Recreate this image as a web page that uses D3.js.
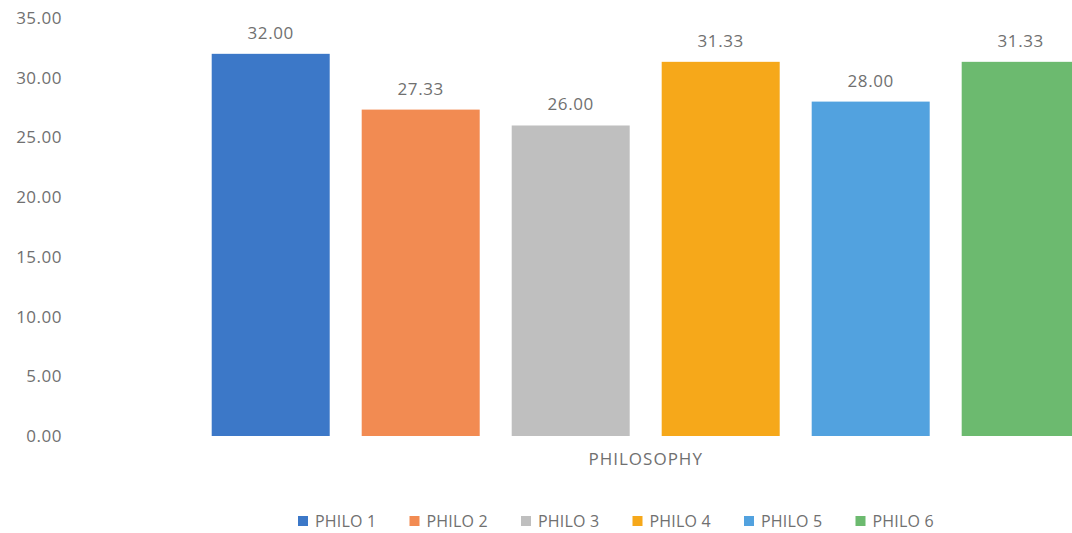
<!DOCTYPE html>
<html>
<head>
<meta charset="utf-8">
<script src="https://cdn.jsdelivr.net/npm/d3@7"></script>
<style>
  body { margin: 0; background: #fff; }
  text { font-family: "Open Sans", sans-serif; fill: #707070; }
</style>
</head>
<body>
<svg width="1072" height="533"></svg>
<script>
// data
var category = "PHILOSOPHY";
var series = ["PHILO 1", "PHILO 2", "PHILO 3", "PHILO 4", "PHILO 5", "PHILO 6"];
var values = [32.00, 27.33, 26.00, 31.33, 28.00, 31.33];
var colors = ["#3c78c8", "#f28b52", "#bfbfbf", "#f6a81a", "#52a2df", "#6cba6f"];
var yTicks = [0, 5, 10, 15, 20, 25, 30, 35];

var svg = d3.select("svg"),
  width = +svg.attr("width"),
  height = +svg.attr("height");

// scales
var y = d3.scaleLinear()
  .domain([0, 35])
  .range([436, 18]);

var x = d3.scaleBand()
  .domain(series)
  .range([195.7, 1095.7])
  .paddingInner(0.2133)
  .paddingOuter(0.1067);

// y axis, labels only
var yAxis = svg.append("g")
  .attr("transform", "translate(62,0)")
  .call(d3.axisLeft(y).tickValues(yTicks).tickFormat(d3.format(".2f")).tickSize(0).tickPadding(0));
yAxis.select(".domain").remove();
yAxis.selectAll("text")
  .style("font-family", "'Open Sans', sans-serif")
  .style("font-size", "17px")
  .style("letter-spacing", "0.5px")
  .attr("fill", "#707070");

// bars
svg.append("g")
  .selectAll("rect")
  .data(values)
  .enter()
  .append("rect")
    .attr("x", function(d, i) { return x(series[i]); })
    .attr("y", function(d) { return y(d); })
    .attr("width", x.bandwidth())
    .attr("height", function(d) { return y(0) - y(d); })
    .attr("fill", function(d, i) { return colors[i]; });

// value labels
svg.append("g")
  .selectAll("text")
  .data(values)
  .enter()
  .append("text")
    .attr("x", function(d, i) { return x(series[i]) + x.bandwidth() / 2; })
    .attr("y", function(d) { return y(d) - 15; })
    .attr("text-anchor", "middle")
    .style("font-size", "17px")
    .style("letter-spacing", "0.6px")
    .text(function(d) { return d3.format(".2f")(d); });

// category label
svg.append("text")
  .attr("x", (x.range()[0] + x.range()[1]) / 2)
  .attr("y", 465)
  .attr("text-anchor", "middle")
  .style("font-size", "17px")
  .style("letter-spacing", "1px")
  .text(category);

// legend
var legend = svg.append("g")
  .attr("transform", "translate(298,0)");

var item = legend.selectAll("g")
  .data(series)
  .enter()
  .append("g")
    .attr("transform", function(d, i) { return "translate(" + (i * 111.5) + ",0)"; });

item.append("rect")
  .attr("x", 0)
  .attr("y", 516)
  .attr("width", 10)
  .attr("height", 10)
  .attr("fill", function(d, i) { return colors[i]; });

item.append("text")
  .attr("x", 17)
  .attr("y", 527)
  .style("font-size", "16px")
  .style("letter-spacing", "0.2px")
  .text(function(d) { return d; });
</script>
</body>
</html>
